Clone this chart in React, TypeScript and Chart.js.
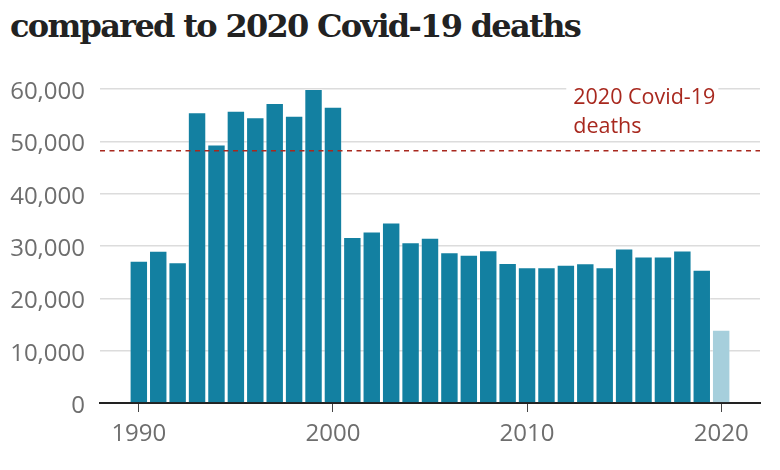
import React, { useEffect, useRef } from "react";
import { Chart, registerables } from "chart.js";

Chart.register(...registerables);

const titleText = "compared to 2020 Covid-19 deaths";

const years = [
  1990, 1991, 1992, 1993, 1994, 1995, 1996, 1997, 1998, 1999,
  2000, 2001, 2002, 2003, 2004, 2005, 2006, 2007, 2008, 2009,
  2010, 2011, 2012, 2013, 2014, 2015, 2016, 2017, 2018, 2019, 2020,
];

const deaths = [
  27200, 29100, 26900, 55550, 49400, 55860, 54600, 57340, 54900, 60000,
  56630, 31720, 32760, 34480, 30700, 31600, 28790, 28350, 29170, 26740,
  25920, 25920, 26400, 26690, 25920, 29500, 27970, 27970, 29120, 25480, 13980,
];

const covidDeaths = 48200;
const covidLabelLines = ["2020 Covid-19", "deaths"];
const xTickYears = [1990, 2000, 2010, 2020];
const yTickValues = [0, 10000, 20000, 30000, 40000, 50000, 60000];

const BAR_COLOR = "#1380A1";
const BAR_COLOR_2020 = "#A6CFDC";
const RED = "#A8281E";

export default function App() {
  const canvasRef = useRef<HTMLCanvasElement | null>(null);

  useEffect(() => {
    const canvas = canvasRef.current;
    if (!canvas) return;

    const covidPlugin = {
      id: "covidLine",
      afterDatasetsDraw(chart: any) {
        const { ctx, chartArea, scales } = chart;
        const y = scales.y.getPixelForValue(covidDeaths);
        ctx.save();
        ctx.strokeStyle = RED;
        ctx.lineWidth = 1.3;
        ctx.setLineDash([5, 4.5]);
        ctx.beginPath();
        ctx.moveTo(chartArea.left, y);
        ctx.lineTo(chartArea.right, y);
        ctx.stroke();
        ctx.setLineDash([]);
        const xStart = scales.x.getPixelForValue(2012.38);
        ctx.font = "21.5px 'Open Sans'";
        const w = Math.max(...covidLabelLines.map((l) => ctx.measureText(l).width));
        const top = scales.y.getPixelForValue(60000);
        ctx.fillStyle = "#ffffff";
        ctx.fillRect(xStart - 7, top - 3, w + 10, 50);
        ctx.fillStyle = RED;
        ctx.textAlign = "left";
        ctx.textBaseline = "alphabetic";
        ctx.fillText(covidLabelLines[0], xStart, y - 46.5);
        ctx.fillText(covidLabelLines[1], xStart, y - 17.5);
        ctx.restore();
      },
    };

    const chart = new Chart(canvas, {
      type: "bar",
      data: {
        datasets: [
          {
            data: years.map((yr, i) => ({ x: yr, y: deaths[i] })),
            backgroundColor: years.map((yr) => (yr === 2020 ? BAR_COLOR_2020 : BAR_COLOR)),
            borderColor: "rgba(255,255,255,0.25)",
            borderWidth: 1,
            borderSkipped: "start",
            categoryPercentage: 1,
            barPercentage: 0.95,
          } as any,
        ],
      },
      options: {
        animation: false,
        responsive: false,
        maintainAspectRatio: false,
        layout: { padding: { top: 89, right: 20, bottom: 0, left: 0 } },
        plugins: {
          legend: { display: false },
          tooltip: { enabled: false },
          title: { display: false },
        },
        scales: {
          x: {
            type: "linear",
            min: 1988,
            max: 2022,
            offset: false,
            afterBuildTicks: (scale: any) => {
              scale.ticks = xTickYears.map((v) => ({ value: v }));
            },
            afterFit: (scale: any) => {
              scale.height = 67;
            },
            grid: {
              offset: false,
              drawOnChartArea: false,
              drawTicks: true,
              tickLength: 9,
              color: "#444444",
              lineWidth: 1,
            },
            border: { display: true, color: "#222222", width: 2 },
            ticks: {
              padding: 8,
              color: "#6e6e6e",
              font: { family: "'Open Sans'", size: 24 },
              callback: (v: any) => String(v),
              maxRotation: 0,
            },
          },
          y: {
            type: "linear",
            min: 0,
            max: 60000,
            afterBuildTicks: (scale: any) => {
              scale.ticks = yTickValues.map((v) => ({ value: v }));
            },
            afterFit: (scale: any) => {
              scale.width = 100;
            },
            grid: {
              drawTicks: false,
              color: "#dcdcdc",
              lineWidth: 1.5,
            },
            border: { display: false },
            ticks: {
              padding: 15,
              labelOffset: 3,
              color: "#6e6e6e",
              font: { family: "'Open Sans'", size: 24 },
              callback: (v: any) => Number(v).toLocaleString("en-US"),
            },
          },
        },
      },
      plugins: [covidPlugin],
    } as any);

    return () => chart.destroy();
  }, []);

  return (
    <div style={{ position: "absolute", left: 0, top: 0, width: 780, height: 470, background: "#fff" }}>
      <div
        style={{
          position: "absolute",
          left: 10,
          top: 6,
          fontFamily: "'DejaVu Serif', serif",
          fontWeight: 700,
          fontSize: 32,
          lineHeight: "40px",
          color: "#222222",
          whiteSpace: "nowrap",
          letterSpacing: "-1.7px",
        }}
      >
        {titleText}
      </div>
      <canvas ref={canvasRef} width={780} height={470} style={{ position: "absolute", left: 0, top: 0 }} />
    </div>
  );
}
